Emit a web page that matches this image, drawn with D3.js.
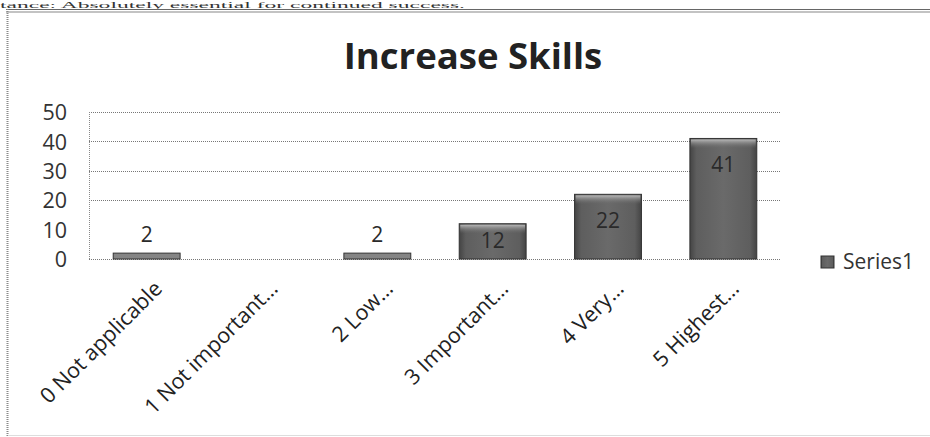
<!DOCTYPE html>
<html>
<head>
<meta charset="utf-8">
<script src="https://cdn.jsdelivr.net/npm/d3@7/dist/d3.min.js"></script>
<style>
  html, body { margin: 0; padding: 0; background: #fff; }
  svg { display: block; }
</style>
</head>
<body>
<svg id="chart" width="930" height="437"></svg>
<script>
// ---- data ----
const categories = ["0 Not applicable", "1 Not important…", "2 Low…", "3 Important…", "4 Very…", "5 Highest…"];
const values = [2, 0, 2, 12, 22, 41];
const yTicks = [0, 10, 20, 30, 40, 50];
const gridValues = [20, 30, 40, 50];
const seriesName = "Series1";
const title = "Increase Skills";
const headerText = "tance: Absolutely essential for continued success.";

// ---- layout ----
const W = 930, H = 437;
const plot = { left: 89, right: 781, top: 112, bottom: 259 };
const svg = d3.select("#chart");
const font = "'Open Sans', Lato, sans-serif";

const defs = svg.append("defs");
const gBar = defs.append("linearGradient").attr("id", "barBody").attr("x1", 0).attr("x2", 1).attr("y1", 0).attr("y2", 0);
gBar.append("stop").attr("offset", "0%").attr("stop-color", "#444");
gBar.append("stop").attr("offset", "10%").attr("stop-color", "#5e5e5e");
gBar.append("stop").attr("offset", "50%").attr("stop-color", "#6a6a6a");
gBar.append("stop").attr("offset", "90%").attr("stop-color", "#5e5e5e");
gBar.append("stop").attr("offset", "100%").attr("stop-color", "#444");
const gTop = defs.append("linearGradient").attr("id", "barTop").attr("x1", 0).attr("x2", 0).attr("y1", 0).attr("y2", 1);
gTop.append("stop").attr("offset", "0%").attr("stop-color", "#b8b8b8");
gTop.append("stop").attr("offset", "100%").attr("stop-color", "#6a6a6a").attr("stop-opacity", 0);

// header fragment (scan artifact)
svg.append("text").attr("x", 0).attr("y", 8)
  .attr("font-family", "'Liberation Serif', serif").attr("font-size", 9)
  .attr("textLength", 465).attr("lengthAdjust", "spacingAndGlyphs")
  .attr("fill", "#333").text(headerText);

// frame
svg.append("line").attr("x1", 6).attr("x2", W).attr("y1", 9.5).attr("y2", 9.5).attr("stroke", "#666").attr("stroke-width", 1.2);
svg.append("line").attr("x1", 6).attr("x2", W).attr("y1", 12).attr("y2", 12).attr("stroke", "#888").attr("stroke-width", 1.2);
svg.append("line").attr("x1", 7.5).attr("x2", 7.5).attr("y1", 9).attr("y2", H).attr("stroke", "#8a8a8a").attr("stroke-width", 2).attr("stroke-dasharray", "1,1");
svg.append("line").attr("x1", 8).attr("x2", W).attr("y1", 435.5).attr("y2", 435.5).attr("stroke", "#ddd").attr("stroke-width", 1);

// title
svg.append("text").attr("x", 473).attr("y", 69).attr("text-anchor", "middle")
  .attr("font-family", font).attr("font-weight", "bold").attr("font-size", 36.5)
  .attr("fill", "#222").text(title);

// scales
const x = d3.scaleBand().domain(categories).range([plot.left, plot.right]).paddingInner(0.42).paddingOuter(0.21);
const y = d3.scaleLinear().domain([0, 50]).range([plot.bottom, plot.top]);

// gridlines
svg.append("g").selectAll("line").data(gridValues).join("line")
  .attr("x1", plot.left).attr("x2", plot.right)
  .attr("y1", d => Math.round(y(d)) + 0.5).attr("y2", d => Math.round(y(d)) + 0.5)
  .attr("stroke", "#777").attr("stroke-width", 1).attr("stroke-dasharray", "1,1");
// axis lines
svg.append("line").attr("x1", plot.left).attr("x2", plot.right).attr("y1", plot.bottom + 0.5).attr("y2", plot.bottom + 0.5)
  .attr("stroke", "#777").attr("stroke-dasharray", "1,1");
svg.append("line").attr("x1", plot.left + 0.5).attr("x2", plot.left + 0.5).attr("y1", plot.top).attr("y2", plot.bottom)
  .attr("stroke", "#888").attr("stroke-dasharray", "1,1");

// y axis labels
const yAxis = d3.axisLeft(y).tickValues(yTicks).tickSize(0).tickPadding(22);
const ya = svg.append("g").attr("transform", `translate(${plot.left},0)`).call(yAxis);
ya.select(".domain").remove();
ya.selectAll("text").attr("font-family", font).attr("font-size", 21.5).attr("fill", "#333").attr("dy", "0.36em");

// bars
const bars = svg.append("g").selectAll("g").data(categories.map((c, i) => ({ c, v: values[i] })).filter(d => d.v > 0)).join("g");
bars.append("rect")
  .attr("x", d => x(d.c)).attr("width", x.bandwidth())
  .attr("y", d => y(d.v)).attr("height", d => y(0) - y(d.v))
  .attr("fill", d => (y(0) - y(d.v)) < 10 ? "#858585" : "url(#barBody)")
  .attr("stroke", "#333").attr("stroke-width", 1);
bars.filter(d => (y(0) - y(d.v)) >= 10).append("rect")
  .attr("x", d => x(d.c) + 1).attr("width", x.bandwidth() - 2)
  .attr("y", d => y(d.v) + 1).attr("height", 9)
  .attr("fill", "url(#barTop)");

// data labels
bars.append("text")
  .attr("x", d => x(d.c) + x.bandwidth() / 2)
  .attr("y", d => {
    const h = y(0) - y(d.v);
    if (h < 20) return y(d.v) - 11;
    return y(d.v) + Math.min(34, h / 2 + 7);
  })
  .attr("text-anchor", "middle").attr("font-family", font).attr("font-size", 21)
  .attr("fill", "#2a2a2a").text(d => d.v);

// x labels
svg.append("g").selectAll("text").data(categories).join("text")
  .attr("transform", d => `translate(${x(d) + x.bandwidth() / 2 + 17},${plot.bottom + 31}) rotate(-45)`)
  .attr("text-anchor", "end").attr("font-family", font).attr("font-size", 21.5)
  .attr("fill", "#222").text(d => d);

// legend
const lg = svg.append("g").attr("transform", "translate(821,256)");
lg.append("rect").attr("width", 13).attr("height", 12).attr("fill", "url(#barBody)").attr("stroke", "#333");
lg.append("text").attr("x", 22).attr("y", 13).attr("font-family", font).attr("font-size", 21)
  .attr("fill", "#333").text(seriesName);
</script>
</body>
</html>
